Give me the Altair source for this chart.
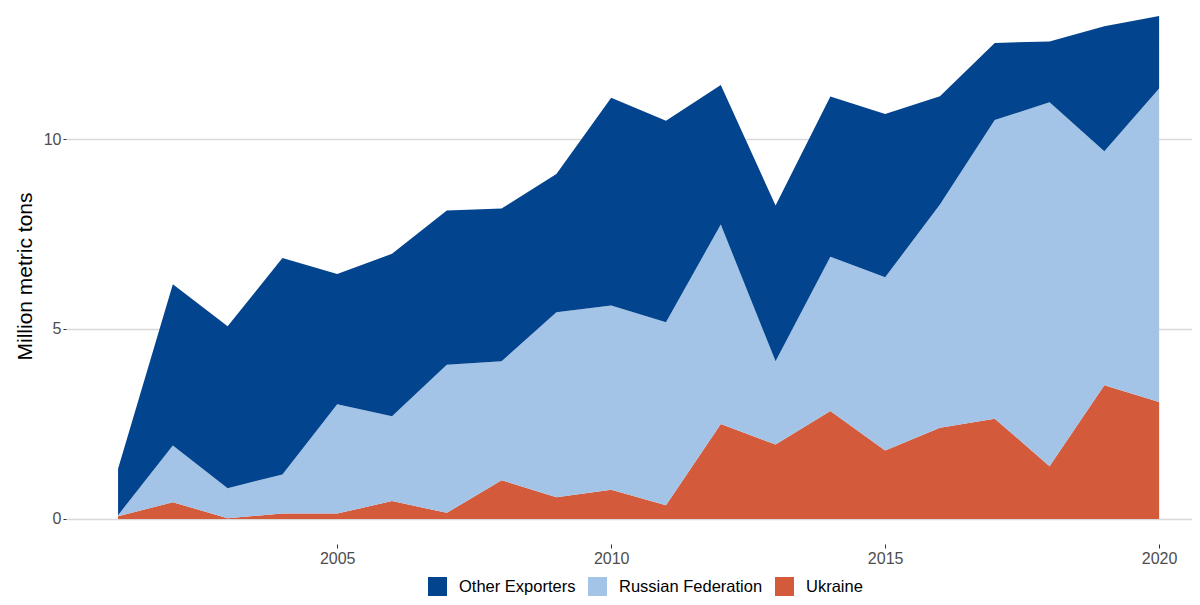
import altair as alt
import pandas as pd

years = list(range(2001, 2021))
ukraine = [0.07, 0.44, 0.02, 0.14, 0.14, 0.47, 0.16, 1.02, 0.57, 0.77,
           0.36, 2.50, 1.96, 2.84, 1.80, 2.40, 2.64, 1.39, 3.52, 3.08]
russia = [0.03, 1.49, 0.79, 1.03, 2.88, 2.23, 3.90, 3.13, 4.87, 4.85,
          4.82, 5.25, 2.19, 4.06, 4.56, 5.88, 7.86, 9.58, 6.16, 8.25]
other = [1.22, 4.25, 4.26, 5.70, 3.43, 4.28, 4.06, 4.02, 3.64, 5.47,
         5.30, 3.67, 4.10, 4.22, 4.30, 2.85, 2.03, 1.60, 3.29, 1.91]

series = ["Other Exporters", "Russian Federation", "Ukraine"]
colors = ["#03448F", "#A3C4E7", "#D35B3B"]
stack_rank = {"Ukraine": 0, "Russian Federation": 1, "Other Exporters": 2}

rows = []
for name, vals in [("Ukraine", ukraine), ("Russian Federation", russia), ("Other Exporters", other)]:
    for y, v in zip(years, vals):
        rows.append({"year": y, "value": v, "series": name, "rank": stack_rank[name]})
df = pd.DataFrame(rows)

FONT = "Liberation Sans"

chart = alt.Chart(df).mark_area(interpolate="linear", strokeWidth=0).encode(
    x=alt.X("year:Q",
            scale=alt.Scale(domain=[2000.05, 2020.6], nice=False, zero=False),
            axis=alt.Axis(values=[2005, 2010, 2015, 2020], format="d", title=None,
                          grid=False, domain=False, tickSize=4, tickColor="#333333",
                          labelFontSize=16, labelColor="#4d4d4d", labelPadding=2,
                          labelFont=FONT)),
    y=alt.Y("value:Q", stack="zero",
            scale=alt.Scale(domain=[-0.66, 13.45], nice=False, zero=False),
            axis=alt.Axis(values=[0, 5, 10], title="Million metric tons",
                          grid=True, gridColor="#d9d9d9", gridWidth=1.6,
                          domain=False, tickSize=3, tickColor="#333333",
                          labelFontSize=16, labelColor="#4d4d4d", labelPadding=2,
                          labelFont=FONT, titleFont=FONT, titleFontSize=21,
                          titleFontWeight="normal", titleColor="#000000",
                          titlePadding=8)),
    color=alt.Color("series:N",
                    scale=alt.Scale(domain=series, range=colors),
                    legend=alt.Legend(title=None, orient="none", direction="horizontal",
                                      legendX=362, legendY=569, symbolType="square",
                                      symbolSize=361, symbolStrokeWidth=0,
                                      symbolOpacity=1, labelFontSize=16.5,
                                      labelFont=FONT, labelColor="#000000",
                                      labelOffset=12, columnPadding=12, padding=0)),
    order=alt.Order("rank:Q", sort="ascending"),
).properties(
    width=1126, height=536,
    background="white",
    autosize=alt.AutoSizeParams(type="none"),
    padding={"left": 58, "top": 0, "right": 0, "bottom": 53},
).configure_view(stroke="transparent", strokeWidth=0)

chart.save("out.html", embed_options={"renderer": "svg", "actions": False})
